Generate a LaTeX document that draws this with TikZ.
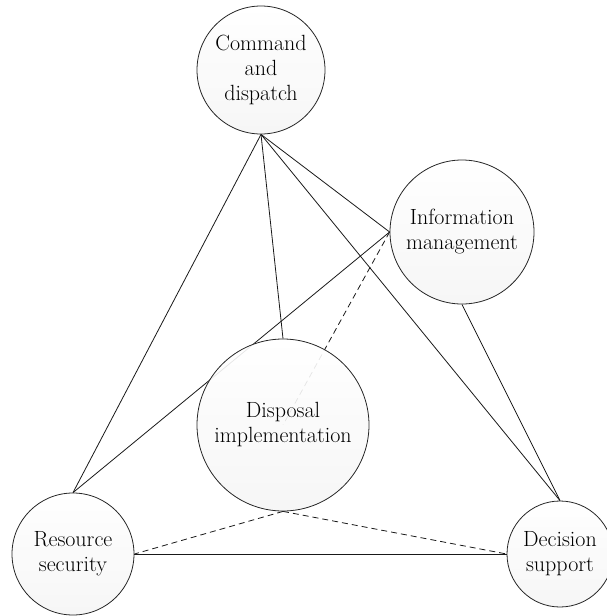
\documentclass[tikz,border=0pt]{standalone}
\usetikzlibrary{positioning}
\pgfdeclarelayer{bg}
\pgfsetlayers{bg,main}

\begin{document}
\begin{tikzpicture}[x=1pt,y=-1pt,
    unit/.style={circle,draw=black!85,line width=0.8pt,top color=white,bottom color=black!4,
      fill opacity=0.9,text opacity=1,inner sep=0pt,align=center,
      font=\fontsize{22}{25}\selectfont},
    link/.style={line width=0.8pt,black!90}]
  \useasboundingbox (0,0) rectangle (607,616);
  \node[unit,minimum size=128pt] (cmd) at (261,70) {Command\\and\\dispatch};
  \node[unit,minimum size=144pt] (info) at (462,232) {Information\\management};
  \node[unit,minimum size=172pt] (dis) at (283,425) {Disposal\\implementation};
  \node[unit,minimum size=122pt] (res) at (73,554) {Resource\\security};
  \node[unit,minimum size=106pt] (dec) at (560,554) {Decision\\support};
  \begin{pgfonlayer}{bg}
    % links from the top unit
    \foreach \t in {res.north,dis.north,info.west,dec.north}{
      \draw[link] (cmd.south)--(\t);
    }
    \draw[link] (res.north)--(info.west);
    \draw[link] (info.south)--(dec.north);
    \draw[link] (res.east)--(dec.west);
    % dashed links to the middle unit
    \draw[link,dash pattern=on 6pt off 4pt] (info.west)--(dis.center);
    \draw[link,dash pattern=on 6pt off 4pt] (dis.south)--(res.east);
    \draw[link,dash pattern=on 6pt off 4pt] (dis.south)--(dec.west);
  \end{pgfonlayer}
\end{tikzpicture}
\end{document}
